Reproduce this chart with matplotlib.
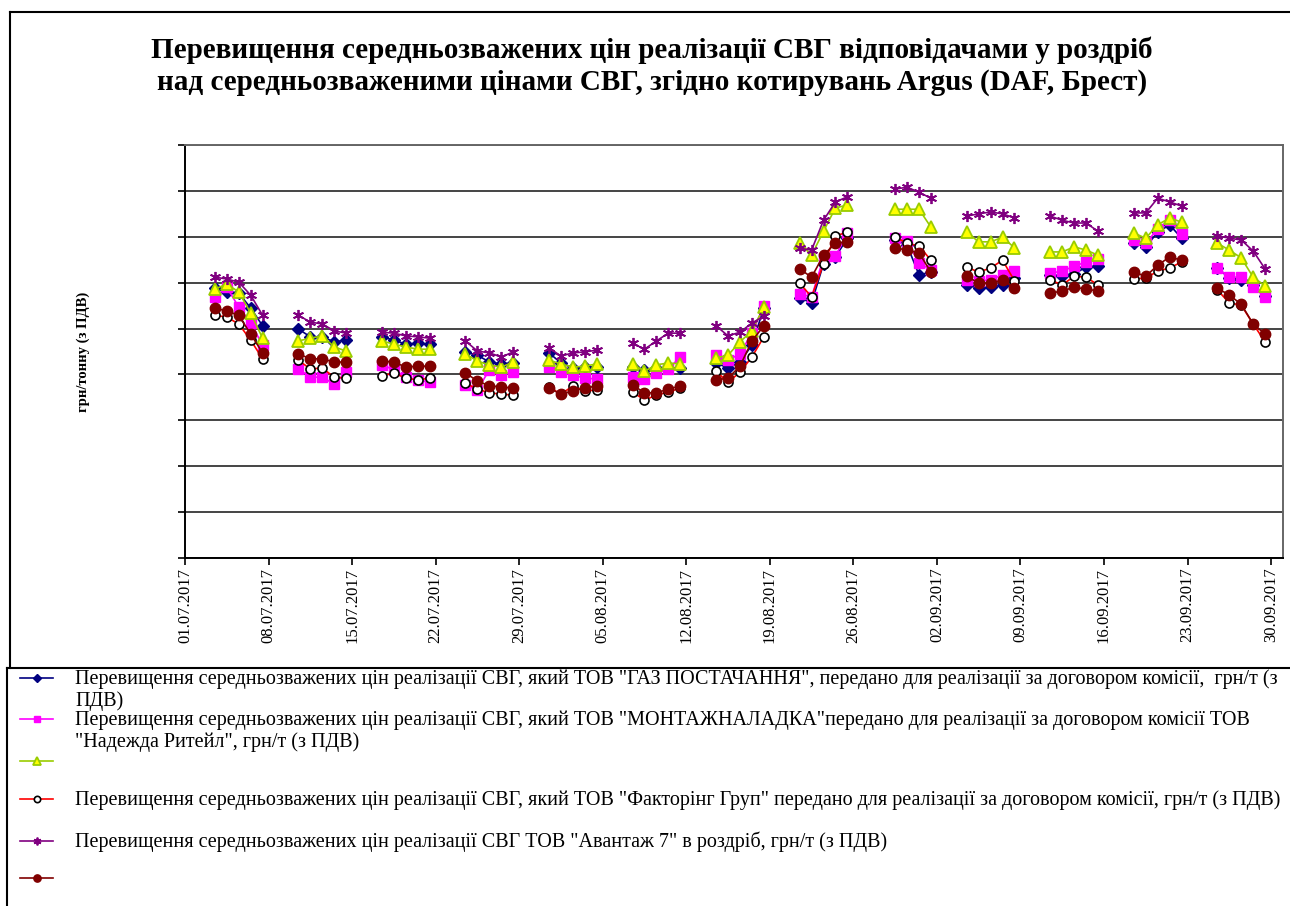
import numpy as np
import pandas as pd
import matplotlib
matplotlib.use("Agg")
import matplotlib.pyplot as plt
import matplotlib.dates as mdates

# торгові дні (точки даних)
dates = [
    "2017-07-03", "2017-07-04", "2017-07-05", "2017-07-06", "2017-07-07",
    "2017-07-10", "2017-07-11", "2017-07-12", "2017-07-13", "2017-07-14",
    "2017-07-17", "2017-07-18", "2017-07-19", "2017-07-20", "2017-07-21",
    "2017-07-24", "2017-07-25", "2017-07-26", "2017-07-27", "2017-07-28",
    "2017-07-31", "2017-08-01", "2017-08-02", "2017-08-03", "2017-08-04",
    "2017-08-07", "2017-08-08", "2017-08-09", "2017-08-10", "2017-08-11",
    "2017-08-14", "2017-08-15", "2017-08-16", "2017-08-17", "2017-08-18",
    "2017-08-21", "2017-08-22", "2017-08-23", "2017-08-24", "2017-08-25",
    "2017-08-29", "2017-08-30", "2017-08-31", "2017-09-01",
    "2017-09-04", "2017-09-05", "2017-09-06", "2017-09-07", "2017-09-08",
    "2017-09-11", "2017-09-12", "2017-09-13", "2017-09-14", "2017-09-15",
    "2017-09-18", "2017-09-19", "2017-09-20", "2017-09-21", "2017-09-22",
    "2017-09-25", "2017-09-26", "2017-09-27", "2017-09-28", "2017-09-29",
]

# значення (умовні одиниці, сітка через 100)
gaz = [588, 580, 577, 545, 506, 499, 482, 482, 471, 475, 482, 475, 466, 468, 466,
       449, 442, 427, 423, 425, 447, 425, 414, 416, 416, 416, 410, 414, 414, 414,
       425, 414, 427, 464, 545, 567, 556, 641, 656, 697, 693, 682, 617, 623,
       595, 588, 590, 595, 610, 617, 614, 619, 634, 636, 686, 678, 710, 726, 697,
       632, 610, 606, 595, 571]
montazh = [569, 590, 547, 512, 464, 412, 394, 394, 379, 405, 421, 410, 394, 388, 383,
           377, 366, 410, 399, 405, 416, 405, 399, 392, 390, 394, 390, 403, 412, 438,
           442, 431, 445, 490, 549, 575, 569, 654, 658, 708, 697, 691, 643, 628,
           606, 604, 606, 617, 625, 621, 625, 636, 645, 651, 693, 686, 717, 736, 706,
           632, 612, 612, 590, 569]
tri = [586, 597, 580, 534, 479, 473, 479, 484, 460, 451, 473, 466, 460, 455, 455,
       445, 429, 421, 416, 427, 431, 423, 416, 418, 423, 423, 407, 421, 425, 423,
       436, 442, 471, 495, 547, 686, 660, 712, 763, 769, 760, 760, 760, 721,
       710, 689, 689, 699, 676, 667, 667, 678, 671, 660, 708, 697, 726, 741, 732,
       686, 671, 654, 612, 593]
faktor = [529, 525, 510, 475, 434, 431, 412, 414, 394, 392, 397, 403, 392, 388, 392,
          381, 368, 360, 357, 355, 373, 357, 375, 364, 366, 362, 344, 355, 362, 370,
          407, 383, 405, 438, 482, 599, 569, 641, 702, 710, 699, 686, 680, 649,
          634, 623, 632, 649, 604, 606, 595, 614, 612, 595, 608, 610, 625, 632, 645,
          584, 556, 551, 510, 471]
avantazh = [612, 608, 601, 573, 529, 529, 514, 510, 495, 490, 492, 490, 484, 482, 479,
            473, 451, 447, 438, 449, 458, 440, 447, 449, 453, 468, 455, 473, 490, 490,
            506, 484, 492, 512, 527, 675, 671, 736, 776, 787, 804, 808, 797, 784,
            745, 750, 754, 750, 741, 745, 736, 730, 730, 712, 752, 752, 784, 776, 767,
            702, 697, 693, 669, 630]
bordo = [545, 538, 529, 488, 447, 445, 434, 434, 427, 427, 429, 427, 416, 418, 418,
         403, 386, 375, 373, 370, 370, 357, 364, 370, 375, 377, 360, 360, 368, 375,
         388, 392, 418, 473, 506, 630, 612, 660, 686, 689, 676, 671, 665, 623,
         614, 599, 599, 606, 588, 577, 582, 590, 586, 582, 623, 614, 638, 656, 649,
         588, 573, 553, 510, 488]

labels = [
    'Перевищення середньозважених цін реалізації СВГ, який ТОВ "ГАЗ ПОСТАЧАННЯ", передано для реалізації за договором комісії,  грн/т (з\nПДВ)',
    'Перевищення середньозважених цін реалізації СВГ, який ТОВ "МОНТАЖНАЛАДКА"передано для реалізації за договором комісії ТОВ\n"Надежда Ритейл", грн/т (з ПДВ)',
    '',
    'Перевищення середньозважених цін реалізації СВГ, який ТОВ "Факторінг Груп" передано для реалізації за договором комісії, грн/т (з ПДВ)',
    'Перевищення середньозважених цін реалізації СВГ ТОВ "Авантаж 7" в роздріб, грн/т (з ПДВ)',
    '',
]

title = ("Перевищення середньозважених цін реалізації СВГ відповідачами у роздріб\n"
         "над середньозваженими цінами СВГ, згідно котирувань Argus (DAF, Брест)")
ylabel = "грн/тонну (з ПДВ)"

serif = ["Liberation Serif", "DejaVu Serif"]

styles = [
    dict(color="#000080", marker="D", ms=6.0, mfc="#000080", mec="#000080", mew=1),
    dict(color="#FF00FF", marker="s", ms=6.5, mfc="#FF00FF", mec="#FF00FF", mew=1),
    dict(color="#99CC00", marker="^", ms=8.0, mfc="#FFFF00", mec="#99CC00", mew=1.3),
    dict(color="#FF0000", marker="o", ms=6.5, mfc="white", mec="black", mew=1.2),
    dict(color="#800080", marker=(6, 2, 0), ms=8.0, mfc="#800080", mec="#800080", mew=1.3),
    dict(color="#800000", marker="o", ms=7.5, mfc="#800000", mec="#800000", mew=1),
]
series = [gaz, montazh, tri, faktor, avantazh, bordo]

fig = plt.figure(figsize=(12.9, 9.06), dpi=100)
W, H = 1290, 906
ax = fig.add_axes([185 / W, 1 - 558 / H, (1283 - 185) / W, (558 - 145) / H])

idx = pd.to_datetime(dates)
for vals, st in zip(series, styles):
    s = pd.Series(vals, index=idx, dtype=float).asfreq("D")  # NaN на вихідних -> розрив лінії
    x = s.index + pd.Timedelta(hours=12)
    ax.plot(x, s.values, lw=1.2, **st)

ax.set_ylim(0, 900)
ax.set_yticks(np.arange(0, 901, 100))
ax.set_yticklabels([])
ax.yaxis.grid(True, color="#444444", lw=1.4)
ax.set_axisbelow(True)
ax.set_xlim(pd.Timestamp("2017-07-01"), pd.Timestamp("2017-10-01"))
xt = pd.date_range("2017-07-01", "2017-09-30", freq="7D")
ax.set_xticks(xt)
ax.xaxis.set_major_formatter(mdates.DateFormatter("%d.%m.%Y"))
ax.tick_params(axis="x", labelrotation=90, labelsize=12, length=5, width=1.2, pad=2)
ax.tick_params(axis="y", length=5, width=1.2)
for lab in ax.get_xticklabels():
    lab.set_fontfamily(serif)
for sp in ["top", "right"]:
    ax.spines[sp].set_color("#666666")
    ax.spines[sp].set_linewidth(1.4)
for sp in ["left", "bottom"]:
    ax.spines[sp].set_color("black")
    ax.spines[sp].set_linewidth(1.4)

fig.text(652 / W, 1 - 66 / H, title, ha="center", va="center", fontsize=21,
         fontweight="bold", family=serif, linespacing=1.22)
fig.text(83 / W, 1 - 352 / H, ylabel, ha="center", va="center", rotation=90,
         fontsize=10.5, fontweight="bold", family=serif)

# рамки та легенда в піксельних координатах
lg = fig.add_axes([0, 0, 1, 1])
lg.set_xlim(0, W)
lg.set_ylim(H, 0)
lg.axis("off")
lg.patch.set_alpha(0)
lg.plot([10, W], [12, 12], color="black", lw=1.5)
lg.plot([10, 10], [12, 668], color="black", lw=1.5)
lg.plot([7, W], [668, 668], color="black", lw=1.5)
lg.plot([7, 7], [668, H], color="black", lw=1.5)

leg_y = [678, 719, 761, 799, 841, 878]
for yy, lab, st in zip(leg_y, labels, styles):
    st2 = dict(st)
    st2["ms"] = st["ms"] * 0.7
    lg.plot([20, 53], [yy, yy], lw=1.2, **{k: v for k, v in st2.items() if k != "marker"}, marker=None)
    lg.plot([36.5], [yy], linestyle="none", **st2)
    lg.text(75, yy - 9, lab, ha="left", va="top", fontsize=14.5, family=serif,
            linespacing=1.17)

fig.savefig("out.png", dpi=100)
